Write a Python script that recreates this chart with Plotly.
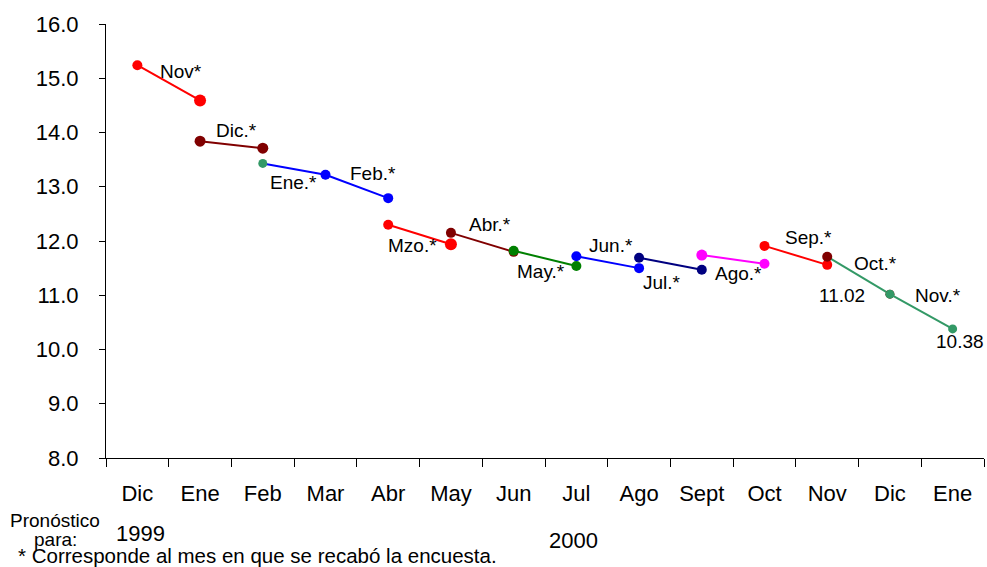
import plotly.graph_objects as go

categories = ["Dic", "Ene", "Feb", "Mar", "Abr", "May", "Jun", "Jul", "Ago", "Sept", "Oct", "Nov", "Dic", "Ene"]
surveys = ["Nov*", "Dic.*", "Ene.*", "Feb.*", "Mzo.*", "Abr.*", "May.*", "Jun.*", "Jul.*", "Ago.*", "Sep.*", "Oct.*", "Nov.*"]

nov99 = [15.24, 14.59]
dic99 = [13.84, 13.71]
ene00 = [13.43, 13.22]
feb00 = [13.22, 12.79]
mzo00 = [12.30, 11.94]
abr00 = [12.15, 11.80]
may00 = [11.82, 11.54]
jun00 = [11.72, 11.50]
jul00 = [11.69, 11.47]
ago00 = [11.74, 11.58]
sep00 = [11.91, 11.56]
oct00 = [11.71, 11.02]
nov00 = [11.02, 10.38]
series = [nov99, dic99, ene00, feb00, mzo00, abr00, may00, jun00, jul00, ago00, sep00, oct00, nov00]

value_labels = ["11.02", "10.38"]

# styles
RED, DRED, SEA, BLUE, GREEN, NAVY, MAG = "#FF0000", "#800000", "#339966", "#0000FF", "#008000", "#000080", "#FF00FF"
line_colors = [RED, DRED, BLUE, BLUE, RED, DRED, GREEN, BLUE, NAVY, MAG, RED, SEA, SEA]
marker_colors = [RED, DRED, SEA, BLUE, RED, DRED, GREEN, BLUE, NAVY, MAG, RED, DRED, SEA]
marker_sizes = [[10, 12], [11, 11], [9, 9], [10, 10], [10, 12], [10, 10], [10, 10], [10, 10], [10, 10], [11, 10], [10, 10], [10, 9], [9, 9]]

# label positions (data units)
label_pos = [(0.70, 15.12), (1.58, 14.03), (2.49, 13.07), (3.75, 13.25), (4.39, 11.91), (5.63, 12.30),
             (6.44, 11.43), (7.56, 11.91), (8.36, 11.23), (9.58, 11.41), (10.70, 12.07), (11.77, 11.58), (12.76, 10.99)]
value_label_pos = [(11.24, 10.99), (13.12, 10.14)]

FONT = "Liberation Sans, Arial, sans-serif"

fig = go.Figure()
for i, vals in enumerate(series):
    fig.add_trace(go.Scatter(
        x=[i, i + 1], y=vals, mode="lines+markers", name=surveys[i],
        line=dict(color=line_colors[i], width=2),
        marker=dict(color=marker_colors[i], size=marker_sizes[i], opacity=1, line=dict(width=0)),
        opacity=1, showlegend=False, hoverinfo="x+y+name"))

ann = []
for (lx, ly), t in zip(label_pos, surveys):
    ann.append(dict(x=lx, y=ly, xref="x", yref="y", text=t, showarrow=False,
                    font=dict(size=19, color="black", family=FONT)))
for (lx, ly), t in zip(value_label_pos, value_labels):
    ann.append(dict(x=lx, y=ly, xref="x", yref="y", text=t, showarrow=False,
                    font=dict(size=19, color="black", family=FONT)))

ann += [
    dict(x=-0.0578, y=-0.145, xref="paper", yref="paper", text="Pronóstico", showarrow=False,
         xanchor="center", yanchor="middle", font=dict(size=19, family=FONT, color="black")),
    dict(x=-0.0578, y=-0.188, xref="paper", yref="paper", text="para:", showarrow=False,
         xanchor="center", yanchor="middle", font=dict(size=19, family=FONT, color="black")),
    dict(x=0.039, y=-0.175, xref="paper", yref="paper", text="1999", showarrow=False,
         xanchor="center", yanchor="middle", font=dict(size=22, family=FONT, color="black")),
    dict(x=0.5326, y=-0.189, xref="paper", yref="paper", text="2000", showarrow=False,
         xanchor="center", yanchor="middle", font=dict(size=22, family=FONT, color="black")),
    dict(x=-0.102, y=-0.224, xref="paper", yref="paper", text="* Corresponde al mes en que se recabó la encuesta.",
         showarrow=False, xanchor="left", yanchor="middle", font=dict(size=20.5, family=FONT, color="black")),
]

fig.update_layout(
    width=987, height=567,
    margin=dict(l=106, r=3, t=24, b=109, autoexpand=False),
    paper_bgcolor="white", plot_bgcolor="white",
    font=dict(family=FONT, color="black"),
    annotations=ann,
    xaxis=dict(
        range=[-0.5, 13.5], tickmode="array", tickvals=list(range(len(categories))), ticktext=categories,
        showgrid=False, zeroline=False, showline=True, linecolor="black", linewidth=1, automargin=False,
        ticks="", ticklabelstandoff=16, tickfont=dict(size=22, family=FONT, color="black"),
        minor=dict(ticks="outside", tick0=0.5, dtick=1, ticklen=8, tickcolor="black", tickwidth=1, showgrid=False),
    ),
    yaxis=dict(
        range=[8, 16], tickmode="linear", tick0=8, dtick=1, tickformat=".1f",
        showgrid=False, zeroline=False, showline=True, linecolor="black", linewidth=1, automargin=False,
        ticks="outside", ticklen=6, tickcolor="black", ticklabelstandoff=16,
        tickfont=dict(size=22, family=FONT, color="black"),
    ),
)

fig.write_html("out.html", config={"displayModeBar": False},
               post_script="document.body.style.margin='0';document.body.style.overflow='hidden';")
